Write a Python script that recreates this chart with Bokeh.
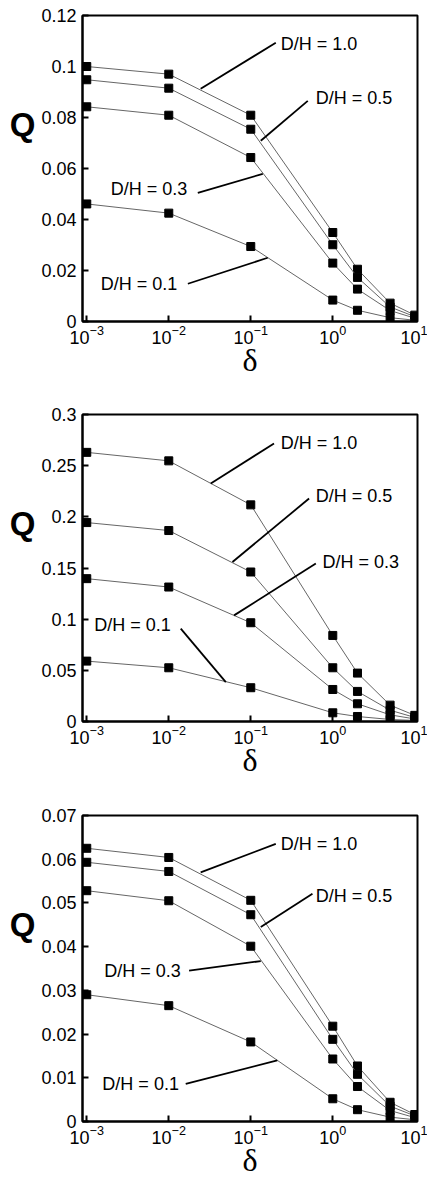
from bokeh.plotting import figure
from bokeh.models import Range1d, FixedTicker, CustomJSTickFormatter
from bokeh.layouts import column
from bokeh.embed import file_html
from bokeh.resources import INLINE
from bokeh.core.properties import value

# ---------------- data ----------------
delta = [0.001, 0.01, 0.1, 1, 2, 5, 10]
dh_names = ["D/H = 1.0", "D/H = 0.5", "D/H = 0.3", "D/H = 0.1"]

# panel (a)
qa_10 = [0.1000, 0.0970, 0.0809, 0.0349, 0.0205, 0.0072, 0.0025]
qa_05 = [0.0948, 0.0915, 0.0754, 0.0301, 0.0173, 0.0057, 0.0019]
qa_03 = [0.0842, 0.0809, 0.0643, 0.0229, 0.0127, 0.0043, 0.0013]
qa_01 = [0.0461, 0.0425, 0.0294, 0.0084, 0.0044, 0.0015, 0.0005]

# panel (b)
qb_10 = [0.263, 0.2547, 0.2117, 0.0841, 0.0473, 0.0160, 0.0060]
qb_05 = [0.1944, 0.1866, 0.1461, 0.0525, 0.0294, 0.0110, 0.0040]
qb_03 = [0.1396, 0.1314, 0.0965, 0.0313, 0.0173, 0.0065, 0.0025]
qb_01 = [0.0590, 0.0525, 0.0330, 0.0085, 0.0049, 0.0020, 0.0010]

# panel (c)
qc_10 = [0.0625, 0.0604, 0.0506, 0.0218, 0.0127, 0.0044, 0.0016]
qc_05 = [0.0593, 0.0572, 0.0473, 0.0188, 0.0108, 0.0035, 0.0013]
qc_03 = [0.0528, 0.0505, 0.0401, 0.0143, 0.0080, 0.0025, 0.0009]
qc_01 = [0.0290, 0.0265, 0.0182, 0.0052, 0.0027, 0.0010, 0.0004]

yticks_a = [0, 0.02, 0.04, 0.06, 0.08, 0.1, 0.12]
yticks_b = [0, 0.05, 0.1, 0.15, 0.2, 0.25, 0.3]
yticks_c = [0, 0.01, 0.02, 0.03, 0.04, 0.05, 0.06, 0.07]
xticks = [0.001, 0.01, 0.1, 1, 10]

# label anchors (x, y) in data coords and leader lines (x0, y0, x1, y1)
lab_a = [(0.232, 0.1089), (0.621, 0.0877), (0.00196, 0.0520), (0.00148, 0.0148)]
lead_a = [(0.0245, 0.0913, 0.2018, 0.1093), (0.1324, 0.0709, 0.4955, 0.0865),
          (0.0226, 0.0504, 0.140, 0.0579), (0.0171, 0.0148, 0.161, 0.0250)]
lab_b = [(0.232, 0.2717), (0.621, 0.2202), (0.748, 0.1559), (0.00123, 0.0939)]
lead_b = [(0.0325, 0.2326, 0.192, 0.2717), (0.0598, 0.1559, 0.514, 0.2179),
          (0.0625, 0.1037, 0.621, 0.1543), (0.0140, 0.0907, 0.0496, 0.0385)]
lab_c = [(0.232, 0.0635), (0.621, 0.0515), (0.00163, 0.0345), (0.00155, 0.00862)]
lead_c = [(0.0245, 0.0570, 0.2018, 0.0635), (0.1324, 0.0445, 0.565, 0.0521),
          (0.0177, 0.0345, 0.1324, 0.0367), (0.0161, 0.00862, 0.2104, 0.01396)]

SANS = "Liberation Sans"

fmt = CustomJSTickFormatter(code="return tick == 0 ? '0' : String(+tick.toFixed(4));")


def panel(series, ymax, yticks, labs, leads, height, top, bottom):
    p = figure(width=427, height=height, x_axis_type="log",
               x_range=Range1d(10 ** -3.052, 10 ** 1.033), y_range=Range1d(0, ymax),
               output_backend="svg", toolbar_location=None,
               min_border_left=82, min_border_right=10,
               min_border_top=top, min_border_bottom=bottom)
    p.grid.visible = False
    p.outline_line_color = "black"
    p.outline_line_width = 2
    p.background_fill_color = "white"
    p.border_fill_color = "white"

    for ax in (p.xaxis[0], p.yaxis[0]):
        ax.axis_line_width = 2
        ax.axis_line_color = "black"
        ax.major_tick_in = 6
        ax.major_tick_out = 0
        ax.major_tick_line_width = 2
        ax.minor_tick_line_color = None
        ax.major_label_text_font = SANS
        ax.major_label_text_font_size = "18px"
        ax.major_label_text_color = "black"
        ax.axis_label_text_color = "black"

    p.xaxis.ticker = FixedTicker(ticks=xticks)
    p.xaxis.major_label_standoff = 3
    p.xaxis.axis_label = "δ"
    p.xaxis.axis_label_text_font = "Liberation Serif"
    p.xaxis.axis_label_text_font_style = "normal"
    p.xaxis.axis_label_text_font_size = "32px"
    p.xaxis.axis_label_standoff = -5

    p.yaxis.ticker = FixedTicker(ticks=yticks)
    p.yaxis.formatter = fmt
    p.yaxis.major_label_standoff = 6
    p.yaxis.axis_label = "Q\n \n "
    p.yaxis.axis_label_orientation = "horizontal"
    p.yaxis.axis_label_text_font = SANS
    p.yaxis.axis_label_text_font_style = "bold"
    p.yaxis.axis_label_text_font_size = "33px"
    p.yaxis.axis_label_standoff = 3

    for ys in series:
        p.line(delta, ys, line_color="#666666", line_width=1)
        p.scatter(delta, ys, marker="square", size=8, fill_color="black",
                  line_color="black")

    for (x0, y0, x1, y1) in leads:
        p.segment(x0=[x0], y0=[y0], x1=[x1], y1=[y1], line_color="black", line_width=1.8)
    p.text(x=[l[0] for l in labs], y=[l[1] for l in labs], text=dh_names,
           text_font=value(SANS), text_font_size="18px", text_align="left",
           text_baseline="middle", text_color="black")
    return p


pa = panel([qa_10, qa_05, qa_03, qa_01], 0.12, yticks_a, lab_a, lead_a, 400, 15, 79)
pb = panel([qb_10, qb_05, qb_03, qb_01], 0.3, yticks_b, lab_b, lead_b, 400, 14, 79)
pc = panel([qc_10, qc_05, qc_03, qc_01], 0.07, yticks_c, lab_c, lead_c, 380, 15, 59)

layout = column(pa, pb, pc, spacing=0)
open("out.html", "w").write(file_html(layout, INLINE))
